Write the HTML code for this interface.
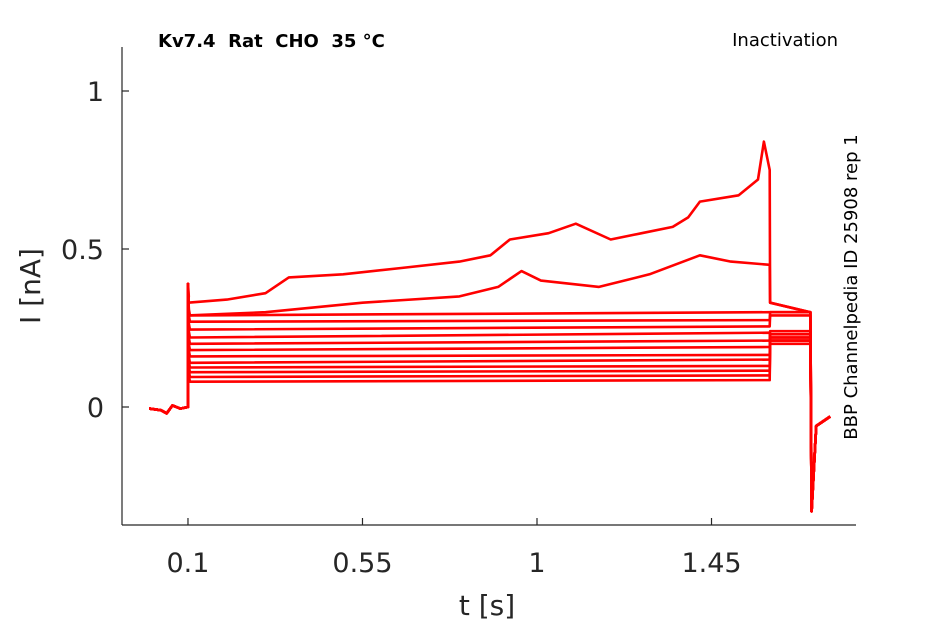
<!DOCTYPE html>
<html><head><meta charset="utf-8"><style>
body{margin:0;background:#fff;}
svg{display:block;font-family:"DejaVu Sans","Liberation Sans",sans-serif;}
</style></head><body>
<svg id="chart" width="945" height="624" viewBox="0 0 945 624">
<rect width="945" height="624" fill="#fff"/>
<g id="traces"></g>
<g id="axes"></g>
<text x="158" y="47" font-size="18" font-weight="bold" fill="#000" style="white-space:pre" xml:space="preserve">Kv7.4  Rat  CHO  35 °C</text>
<text x="838" y="46" font-size="18" text-anchor="end" fill="#000">Inactivation</text>
<text transform="translate(857,287) rotate(-90)" font-size="18" text-anchor="middle" fill="#000">BBP Channelpedia ID 25908 rep 1</text>
<text transform="translate(40,286) rotate(-90)" font-size="28" text-anchor="middle" fill="#262626">I [nA]</text>
<text x="487" y="615" font-size="28" text-anchor="middle" fill="#262626">t [s]</text>
</svg>
<script>
const xTicks=[0.1,0.55,1,1.45];
const xTickLabels=["0.1","0.55","1","1.45"];
const yTicks=[0,0.5,1];
const yTickLabels=["0","0.5","1"];
// flat traces: level at start of step, level at end of step, tail level
const flatLevels=[0.08,0.095,0.11,0.125,0.14,0.16,0.18,0.2,0.22,0.245,0.27,0.29];
const flatEnd=[0.085,0.1,0.115,0.13,0.15,0.165,0.19,0.21,0.235,0.255,0.275,0.3];
const flatTail=[0.21,0.2,0.22,0.21,0.23,0.22,0.21,0.24,0.22,0.29,0.3,0.3];
// rising trace 1 (largest)
const t1=[0.1,0.2,0.3,0.36,0.5,0.65,0.8,0.88,0.93,1.03,1.1,1.19,1.27,1.35,1.39,1.42,1.52,1.57,1.585,1.6];
const v1=[0.33,0.34,0.36,0.41,0.42,0.44,0.46,0.48,0.53,0.55,0.58,0.53,0.55,0.57,0.6,0.65,0.67,0.72,0.84,0.75];
const tail1=[0.33,0.3];
// rising trace 2
const t2=[0.1,0.3,0.55,0.8,0.9,0.96,1.01,1.16,1.29,1.42,1.5,1.6];
const v2=[0.29,0.3,0.33,0.35,0.38,0.43,0.4,0.38,0.42,0.48,0.46,0.45];
const tail2=[0.33,0.3];
const endTimes=[1.705,1.708,1.72,1.756];
const endVals=[0.2,-0.33,-0.06,-0.03];
const onsetPeak=0.39;

const X=t=>149.2+t*387.8, Y=v=>407-v*316;
const NS="http://www.w3.org/2000/svg";
const tr=document.getElementById('traces'), ax=document.getElementById('axes');
function pathFrom(pts,i){
  const p=document.createElementNS(NS,'path');
  
  
  p.setAttribute('d','M'+pts.map(q=>X(q[0]).toFixed(1)+','+Y(q[1]).toFixed(1)).join('L'));
  p.setAttribute('fill','none');p.setAttribute('stroke','#f00');p.setAttribute('stroke-width','2.6');
  p.setAttribute('stroke-linejoin','round');
  tr.appendChild(p);
}
function common(stepPts,tailVals,i){
  const pts=[[0,-0.005],[0.03,-0.01],[0.045,-0.02],[0.06,0.005],[0.08,-0.005],[0.1,0],[0.1,onsetPeak],[0.102,stepPts[0][1]+0.02]];
  stepPts.forEach(q=>pts.push(q));
  pts.push([1.601,tailVals[0]],[1.704,tailVals[1]]);
  endTimes.forEach((t,k)=>pts.push([t,k==0?tailVals[1]:endVals[k]]));
  pathFrom(pts,i);
}
flatLevels.forEach((l,i)=>common([[0.105,l],[1.6,flatEnd[i]]],[flatTail[i],flatTail[i]],i));
common(t1.map((t,k)=>[t,v1[k]]),tail1,'rise-1');
common(t2.map((t,k)=>[t,v2[k]]),tail2,'rise-2');

function line(x1,y1,x2,y2,n){const l=document.createElementNS(NS,'line');
l.setAttribute('x1',x1);l.setAttribute('y1',y1);l.setAttribute('x2',x2);l.setAttribute('y2',y2);
l.setAttribute('stroke','#262626');l.setAttribute('stroke-width','1.2');


ax.appendChild(l);}
function text(x,y,s,a,n){const t=document.createElementNS(NS,'text');
t.setAttribute('x',x);t.setAttribute('y',y);t.setAttribute('font-size','27');t.setAttribute('fill','#262626');t.setAttribute('text-anchor',a);


t.textContent=s;ax.appendChild(t);}
line(122,47,122,525,'y-axis-line');
line(122,525,856,525,'x-axis-line');
xTicks.forEach((t,i)=>{line(X(t),525,X(t),518,'x-tick');text(X(t),572,xTickLabels[i],'middle','x-tick-label');});
yTicks.forEach((v,i)=>{line(122,Y(v),129,Y(v),'y-tick');text(104,Y(v)+10,yTickLabels[i],'end','y-tick-label');});
</script>
</body></html>
